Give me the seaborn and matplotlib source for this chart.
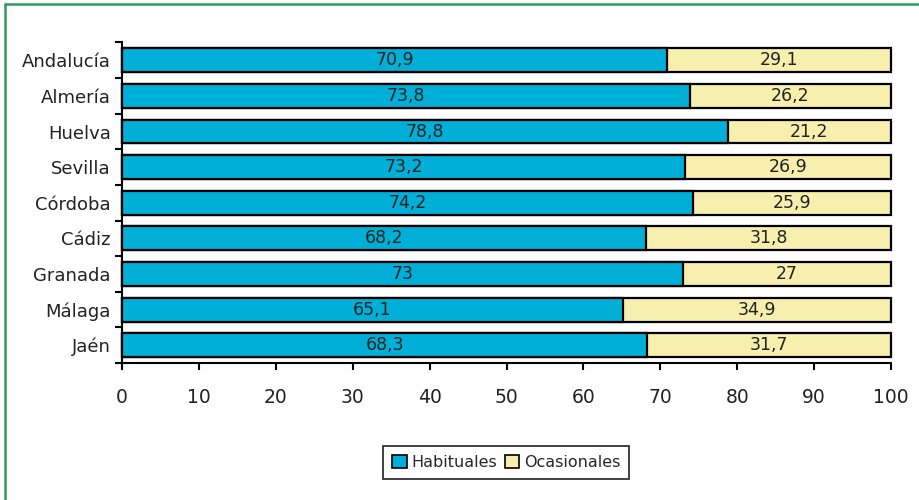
import matplotlib
matplotlib.use("Agg")
import matplotlib.pyplot as plt
from matplotlib.lines import Line2D
from matplotlib.patches import Patch
from matplotlib.ticker import FixedLocator
import seaborn as sns
import pandas as pd
import numpy as np

provincias = ["Andalucía", "Almería", "Huelva", "Sevilla", "Córdoba",
              "Cádiz", "Granada", "Málaga", "Jaén"]
habituales = [70.9, 73.8, 78.8, 73.2, 74.2, 68.2, 73, 65.1, 68.3]
ocasionales = [29.1, 26.2, 21.2, 26.9, 25.9, 31.8, 27, 34.9, 31.7]
xticks = [0, 10, 20, 30, 40, 50, 60, 70, 80, 90, 100]

azul = "#00AFD7"
amarillo = "#F7EFAE"

sns.set_theme(style="white")
plt.rcParams["font.family"] = ["DejaVu Sans"]

df = pd.DataFrame({"provincia": provincias,
                   "habituales": habituales,
                   "ocasionales": ocasionales})
# stacked length, limited to the 100 % scale of the axis
df["total"] = (df["habituales"] + df["ocasionales"]).clip(upper=100)

fig = plt.figure(figsize=(9.19, 5.0), dpi=100)
ax = fig.add_axes([0.1328, 0.274, 0.8367, 0.641])

# stacked bars: full length first, then the habitual share over it
sns.barplot(data=df, x="total", y="provincia", orient="h", ax=ax,
            color=amarillo, saturation=1, width=0.67,
            edgecolor="black", linewidth=1.6)
sns.barplot(data=df, x="habituales", y="provincia", orient="h", ax=ax,
            color=azul, saturation=1, width=0.67,
            edgecolor="black", linewidth=1.6)
for p in ax.patches:
    p.set_clip_on(False)

def fmt(v):
    s = f"{v:g}"
    return s.replace(".", ",")

for i, (h, o) in enumerate(zip(habituales, ocasionales)):
    ax.text(h / 2, i, fmt(h), ha="center", va="center",
            fontsize=12.5, color="#222222")
    ax.text(h + o / 2, i, fmt(o), ha="center", va="center",
            fontsize=12.5, color="#222222")

ax.set_xlim(0, 100)
ax.set_ylim(len(provincias) - 0.5, -0.5)
ax.set_xticks(xticks)
ax.set_xticklabels([str(t) for t in xticks], fontsize=13.5, color="#222222")
ax.set_xlabel("")
ax.set_ylabel("")

# category labels on minor ticks, tick marks at category boundaries
ax.yaxis.set_major_locator(FixedLocator(np.arange(-0.5, len(provincias), 1)))
ax.yaxis.set_minor_locator(FixedLocator(np.arange(len(provincias))))
ax.set_yticklabels([], minor=False)
ax.set_yticklabels(provincias, minor=True, fontsize=13, color="#222222")
ax.tick_params(axis="y", which="major", left=True, length=5, width=1.5,
               color="black")
ax.tick_params(axis="y", which="minor", left=False, length=0, pad=8)
ax.tick_params(axis="x", which="major", bottom=True, length=5, width=1.5,
               color="black", pad=13)

for side in ["top", "right"]:
    ax.spines[side].set_visible(False)
for side in ["left", "bottom"]:
    ax.spines[side].set_color("black")
    ax.spines[side].set_linewidth(1.5)

handles = [Patch(facecolor=azul, edgecolor="black", linewidth=1.2, label="Habituales"),
           Patch(facecolor=amarillo, edgecolor="black", linewidth=1.2, label="Ocasionales")]
leg = fig.legend(handles=handles, loc="center", bbox_to_anchor=(0.551, 0.075),
                 ncol=2, fontsize=11.5, frameon=True, fancybox=False,
                 edgecolor="black", handlelength=0.9, handleheight=0.9,
                 handletextpad=0.3, columnspacing=0.5, borderpad=0.55)
leg.get_frame().set_linewidth(1.3)

# green frame lines along the top and left edges
fig.add_artist(Line2D([0.005, 1.0], [0.992, 0.992], color="#2E9B5A",
                      linewidth=1.8, transform=fig.transFigure))
fig.add_artist(Line2D([0.0055, 0.0055], [0.0, 0.992], color="#2E9B5A",
                      linewidth=1.8, transform=fig.transFigure))

fig.savefig("out.png", dpi=100, facecolor="white")
